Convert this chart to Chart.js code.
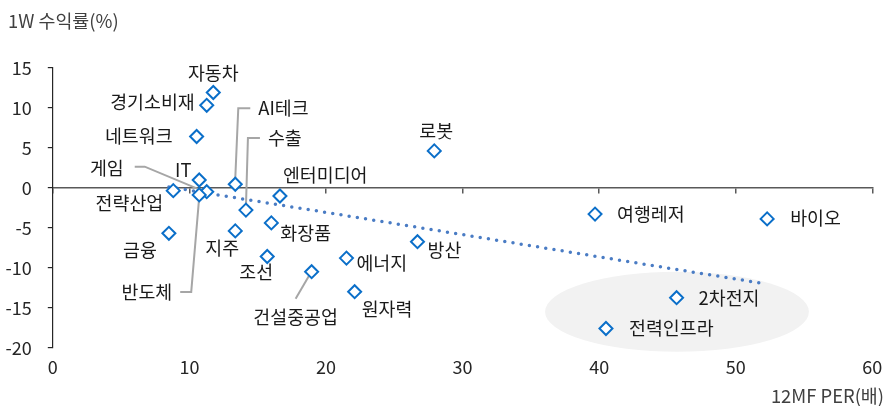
<!DOCTYPE html>
<html>
<head>
<meta charset="utf-8">
<script src="https://cdn.jsdelivr.net/npm/chart.js@4.4.1/dist/chart.umd.min.js"></script>
<style>
  html, body { margin: 0; padding: 0; background: #fff; }
  #wrap { width: 885px; height: 406px; }
</style>
</head>
<body>
<div id="wrap"><canvas id="chart"></canvas></div>
<script>
// data
const sectors = ['자동차', '경기소비재', '네트워크', 'IT', '게임', '전략산업', '반도체', '금융', 'AI테크', '수출', '지주',
  '화장품', '조선', '엔터미디어', '건설중공업', '에너지', '원자력', '로봇', '방산', '여행레저', '바이오', '2차전지', '전력인프라'];
const per = [11.75, 11.27, 10.53, 10.72, 11.27, 8.82, 10.72, 8.5, 13.36, 14.14, 13.36,
  16.0, 15.7, 16.63, 18.95, 21.5, 22.1, 27.93, 26.7, 39.7, 52.3, 45.67, 40.5];
const ret = [11.9, 10.3, 6.4, 0.96, -0.5, -0.37, -0.9, -5.7, 0.43, -2.8, -5.4,
  -4.4, -8.6, -1.04, -10.5, -8.8, -13.0, 4.6, -6.75, -3.3, -3.9, -13.75, -17.6];
const trendPer = [8.5, 52.1];
const trendRet = [0.1, -12.0];
const xTicks = [0, 10, 20, 30, 40, 50, 60];
const yTicks = [-20, -15, -10, -5, 0, 5, 10, 15];

// label placement (pixels relative to the point)
const labelPos = {
  '자동차': {dx: 0, dy: -19, align: 'center'},
  '경기소비재': {dx: -12, dy: -3, align: 'right'},
  '네트워크': {dx: -24, dy: 0, align: 'right'},
  'IT': {dx: -16, dy: -10, align: 'center'},
  '게임': {dx: -83, dy: -24, align: 'right', leader: [[-72, -25], [-62, -25], [-7, -2]]},
  '전략산업': {dx: -10, dy: 12, align: 'right'},
  '반도체': {dx: -27, dy: 97, align: 'right', leader: [[-19, 97], [-8, 97], [0, 2]]},
  '금융': {dx: -12, dy: 17, align: 'right'},
  'AI테크': {dx: 23, dy: -76, align: 'left', leader: [[15, -76], [3, -76], [0, -6]]},
  '수출': {dx: 22, dy: -72, align: 'left', leader: [[14, -72], [2, -72], [0, -3]]},
  '지주': {dx: -13, dy: 17, align: 'center'},
  '화장품': {dx: 9, dy: 10, align: 'left'},
  '조선': {dx: -11, dy: 16, align: 'center'},
  '엔터미디어': {dx: 3, dy: -21, align: 'left'},
  '건설중공업': {dx: -16, dy: 45, align: 'center', leader: [[-16, 27], [-2, 3]]},
  '에너지': {dx: 10, dy: 5, align: 'left'},
  '원자력': {dx: 7, dy: 17, align: 'left'},
  '로봇': {dx: 2, dy: -20, align: 'center'},
  '방산': {dx: 10, dy: 8, align: 'left'},
  '여행레저': {dx: 22, dy: 0, align: 'left'},
  '바이오': {dx: 23, dy: -1, align: 'left'},
  '2차전지': {dx: 22, dy: 0, align: 'left'},
  '전력인프라': {dx: 23, dy: 0, align: 'left'}
};

// grey highlight ellipse (in data units)
const highlight = {x: 45.7, y: -15.5, rx: 9.66, ry: 5};

const FONT = '"Noto Sans CJK KR", "Noto Sans", sans-serif';

const points = sectors.map((s, i) => ({x: per[i], y: ret[i]}));
const trend = trendPer.map((x, i) => ({x: x, y: trendRet[i]}));

const decorPlugin = {
  id: 'decor',
  beforeDatasetsDraw(chart) {
    const ctx = chart.ctx;
    const xs = chart.scales.x, ys = chart.scales.y;
    // ellipse
    const cx = xs.getPixelForValue(highlight.x), cy = ys.getPixelForValue(highlight.y);
    const rx = xs.getPixelForValue(highlight.x + highlight.rx) - cx;
    const ry = ys.getPixelForValue(highlight.y - highlight.ry) - cy;
    ctx.save();
    ctx.fillStyle = '#f2f2f2';
    ctx.beginPath();
    ctx.ellipse(cx, cy, rx, ry, 0, 0, Math.PI * 2);
    ctx.fill();
    // leader lines
    const meta = chart.getDatasetMeta(0);
    ctx.strokeStyle = '#a6a6a6';
    ctx.lineWidth = 2;
    sectors.forEach((s, i) => {
      const lp = labelPos[s];
      if (!lp.leader) return;
      const p = meta.data[i];
      ctx.beginPath();
      lp.leader.forEach((o, k) => {
        if (k == 0) ctx.moveTo(p.x + o[0], p.y + o[1]);
        else ctx.lineTo(p.x + o[0], p.y + o[1]);
      });
      ctx.stroke();
    });
    ctx.restore();
  },
  afterDatasetsDraw(chart) {
    const ctx = chart.ctx;
    const meta = chart.getDatasetMeta(0);
    ctx.save();
    ctx.font = '18.4px ' + FONT;
    ctx.fillStyle = '#1a1a1a';
    ctx.textBaseline = 'middle';
    sectors.forEach((s, i) => {
      const lp = labelPos[s];
      const p = meta.data[i];
      ctx.textAlign = lp.align;
      ctx.fillText(s, p.x + lp.dx, p.y + lp.dy);
    });
    // axis titles
    ctx.fillStyle = '#404040';
    ctx.textAlign = 'left';
    ctx.fillText('1W 수익률(%)', 8, 21);
    ctx.textAlign = 'right';
    ctx.fillText('12MF PER(배)', 884, 396);
    ctx.restore();
  }
};

new Chart(document.getElementById('chart').getContext('2d'), {
  type: 'scatter',
  data: {
    datasets: [{
      label: '업종',
      data: points,
      pointStyle: 'rectRot',
      pointRadius: 6.5,
      pointBorderWidth: 2,
      pointBorderColor: '#0b6fc9',
      pointBackgroundColor: '#ffffff'
    }, {
      label: '추세',
      type: 'line',
      data: trend,
      showLine: true,
      pointRadius: 0,
      borderColor: '#4a7cc4',
      borderWidth: 3.5,
      borderDash: [0, 8.3],
      borderCapStyle: 'round',
      fill: false
    }]
  },
  options: {
    responsive: true,
    maintainAspectRatio: false,
    animation: false,
    layout: {padding: {left: 0, top: 67.7, right: 12.7, bottom: 0}},
    plugins: {legend: {display: false}, tooltip: {enabled: false}},
    scales: {
      x: {
        type: 'linear',
        position: 'bottom',
        min: 0, max: 60,
        afterBuildTicks: s => { s.ticks = xTicks.map(v => ({value: v})); },
        afterFit: s => { s.height = 58.3; s.paddingLeft = 0; s.paddingRight = 0; },
        border: {display: false},
        grid: {display: false},
        ticks: {padding: 1, color: '#262626', font: {family: FONT, size: 18}}
      },
      xZero: {
        type: 'linear',
        position: {y: 0},
        min: 0, max: 60,
        afterBuildTicks: s => { s.ticks = xTicks.map(v => ({value: v})); },
        border: {display: true, color: '#595959', width: 1.5},
        grid: {display: true, drawOnChartArea: false, drawTicks: true, tickLength: 5, color: '#595959', lineWidth: 1.5},
        ticks: {display: false}
      },
      y: {
        type: 'linear',
        position: 'left',
        min: -20, max: 15,
        afterBuildTicks: s => { s.ticks = yTicks.map(v => ({value: v})); },
        afterFit: s => { s.width = 52.8; },
        border: {display: true, color: '#262626', width: 1.2},
        grid: {display: true, drawOnChartArea: false, drawTicks: true, tickLength: 5, color: '#262626', lineWidth: 1.2},
        ticks: {padding: 16, color: '#262626', font: {family: FONT, size: 18}}
      }
    }
  },
  plugins: [decorPlugin]
});
</script>
</body>
</html>
